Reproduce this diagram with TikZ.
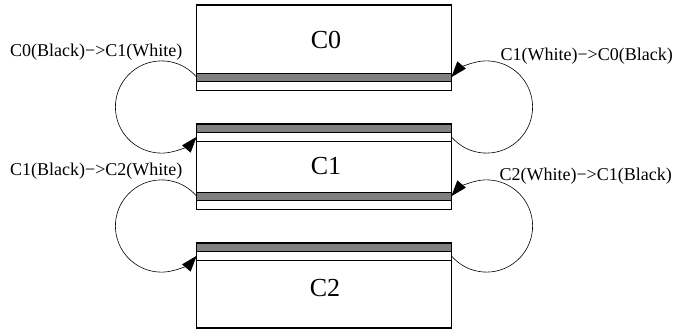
\documentclass[tikz,border=0pt]{standalone}
\usepackage{fontspec}
\setmainfont{Liberation Serif}
\usetikzlibrary{arrows.meta,positioning}

\begin{document}
\begin{tikzpicture}[x=1pt, y=1pt,
    cbox/.style={draw, line width=1.1pt, minimum width=254.6pt, minimum height=85pt, inner sep=0pt, outer sep=0pt},
    band/.style={draw, line width=0.8pt, minimum width=254.6pt, minimum height=8.5pt, inner sep=0pt, outer sep=0pt},
    blk/.style={band, fill=black!50},
    wht/.style={band, fill=white},
    lbl/.style={font=\fontsize{18}{20}\selectfont, inner sep=0pt},
    big/.style={font=\fontsize{26}{28}\selectfont, inner sep=0pt},
    arr/.style={-{Triangle[length=16pt, width=11pt]}, line width=0.6pt}
]
\useasboundingbox (0,0) rectangle (674,329);

\node[cbox] (c0) at (324,281.5) {};
\node[cbox] (c1) at (324,162.5) {};
\node[cbox] (c2) at (324,43.5) {};

\node[wht, above=0pt of c0.south] (c0wht) {};
\node[blk, above=0pt of c0wht] (c0blk) {};
\node[blk, below=0pt of c1.north] (c1topblk) {};
\node[wht, below=0pt of c1topblk] (c1topwht) {};
\node[wht, above=0pt of c1.south] (c1botwht) {};
\node[blk, above=0pt of c1botwht] (c1botblk) {};
\node[blk, below=0pt of c2.north] (c2blk) {};
\node[wht, below=0pt of c2blk] (c2wht) {};

\node[big] (c0txt) at (326,289) {C0};
\node[big] (c1txt) at (326,163) {C1};
\node[big] (c2txt) at (325,41) {C2};

\draw[arr] (c0blk.west) arc[start angle=40.2, end angle=319.8, radius=46.1pt];
\draw[arr] (c1botblk.west) arc[start angle=40.2, end angle=319.8, radius=46.1pt];
\draw[arr] (c1topwht.east) arc[start angle=-139.8, end angle=139.8, radius=46.1pt];
\draw[arr] (c2wht.east) arc[start angle=-139.8, end angle=139.8, radius=46.1pt];

\node[lbl, anchor=base west] (l01) at (10,272.3) {C0(Black)−>C1(White)};
\node[lbl, anchor=base east] (l10) at (673,268.3) {C1(White)−>C0(Black)};
\node[lbl, anchor=base west] (l12) at (10,153.3) {C1(Black)−>C2(White)};
\node[lbl, anchor=base east] (l21) at (672,148.3) {C2(White)−>C1(Black)};
\end{tikzpicture}
\end{document}
